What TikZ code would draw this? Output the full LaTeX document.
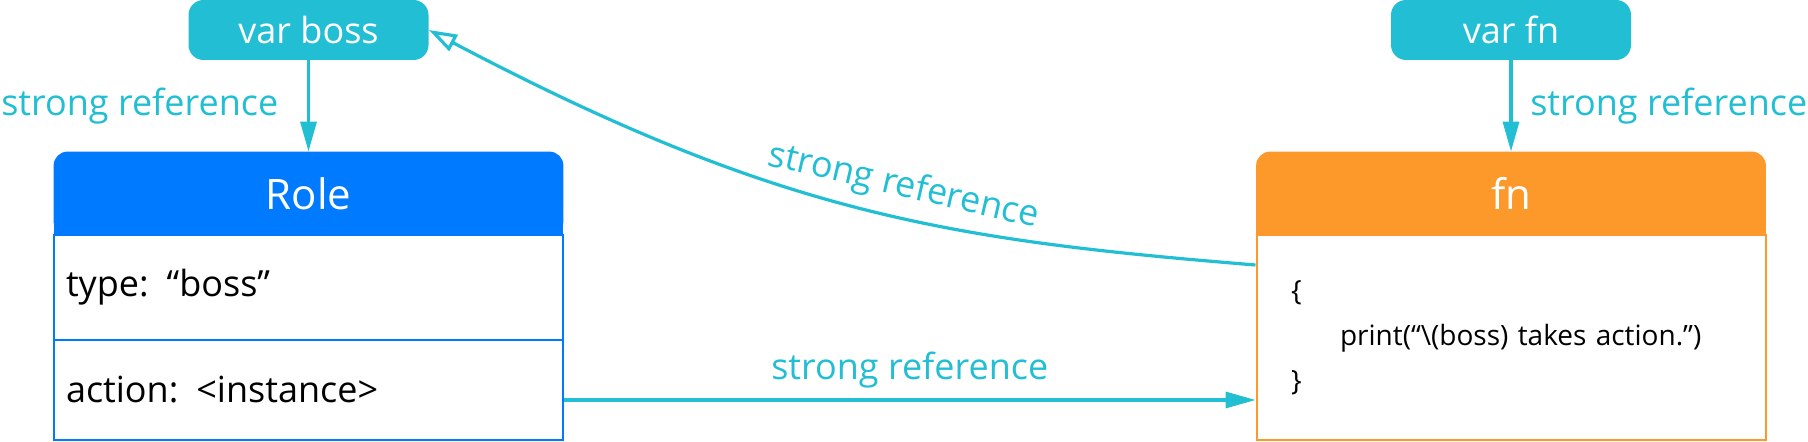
\documentclass[tikz,border=0pt]{standalone}
\usepackage{fontspec}
\setmainfont{Open Sans}
\usetikzlibrary{arrows.meta, backgrounds}
\definecolor{refteal}{RGB}{34,190,212}
\definecolor{roleblue}{RGB}{0,122,255}
\definecolor{fnorange}{RGB}{253,153,43}

\begin{document}
\begin{tikzpicture}[x=0.5pt, y=-0.5pt,
    varbox/.style={rectangle, fill=refteal, rounded corners=7.5pt, minimum width=120pt, minimum height=30pt, inner sep=0pt, text=white, font=\fontsize{18}{21}\selectfont},
    hdr/.style={rectangle, minimum width=254.5pt, minimum height=41.5pt, inner sep=0pt, text=white, font=\fontsize{21}{25}\selectfont},
    field/.style={rectangle, draw=roleblue, line width=1pt, fill=white, minimum width=254.5pt, text width=242.5pt, inner xsep=6pt, inner ysep=0pt, align=left, font=\fontsize{18}{22}\selectfont},
    ref/.style={-{Triangle[length=15pt, width=8pt]}, draw=refteal, line width=1.6pt},
    reflabel/.style={text=refteal, font=\fontsize{18}{21}\selectfont}
  ]
    \useasboundingbox (0,0) rectangle (1808,442);

    \node[varbox] (varboss) at (308.5,30) {var boss};
    \node[varbox] (varfn) at (1511,30) {var fn};

    % Role object
    \node[hdr] (rolehdr) at (308.5,193.5) {Role};
    \node[field, minimum height=52.5pt] (roletype) at (308.5,287.5) {type: “boss”};
    \node[field, minimum height=50pt] (roleaction) at (308.5,390) {action: <instance>};

    % closure object
    \node[hdr] (fnhdr) at (1511,193.5) {fn};
    \node[field, draw=fnorange, minimum height=102.5pt, inner xsep=17pt, text width=220pt, font=\fontsize{14}{22.5}\selectfont] (fnbody) at (1511,337.5)
      {\{\\\mbox{\hspace*{24.5pt}print(“\textbackslash(boss) takes action.”)}\\\}};

    \begin{scope}[on background layer]
      \foreach \hd/\col in {rolehdr/roleblue, fnhdr/fnorange} {
        \fill[\col, rounded corners=7pt] (\hd.south west) rectangle (\hd.north east);
        \fill[\col] (\hd.south west) rectangle ([yshift=10pt]\hd.south east);
      }
    \end{scope}

    \draw[ref] (varboss) -- node[reflabel, left=11pt] {strong reference} (rolehdr);
    \draw[ref] (varfn) -- node[reflabel, right=5.5pt] {strong reference} (fnhdr);
    \draw[ref, {Triangle[open, length=14pt, width=9pt]}-] (varboss.east) .. controls (780,215) and (950,240) .. ([yshift=-15.5pt]fnbody.north west)
      node[reflabel, sloped, above=2pt, pos=0.55] {strong reference};
    \draw[ref] ([yshift=-5pt]roleaction.east) -- node[reflabel, above=2pt] {strong reference} ([yshift=-5pt]roleaction.east -| fnbody.west);
  \end{tikzpicture}
\end{document}
